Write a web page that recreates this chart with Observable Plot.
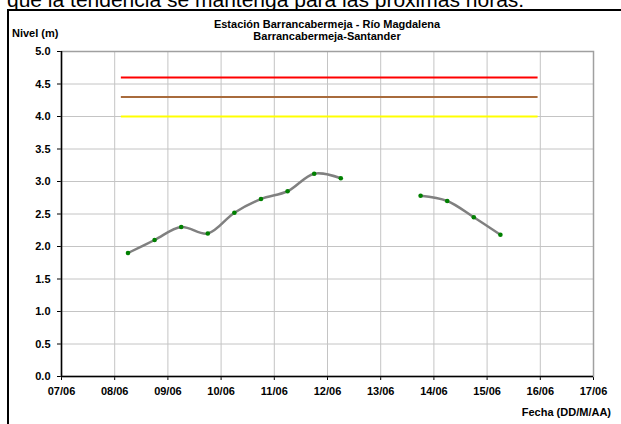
<!DOCTYPE html>
<html>
<head>
<meta charset="utf-8">
<script src="https://cdn.jsdelivr.net/npm/d3@7"></script>
<script src="https://cdn.jsdelivr.net/npm/@observablehq/plot@0.6"></script>
<style>
  html, body { margin: 0; padding: 0; background: white; overflow: hidden; }
</style>
</head>
<body>
<div id="chart"></div>
<script>
// ---- Data ----
const fechas = [
  "2011-06-08T06:00Z", "2011-06-08T18:00Z", "2011-06-09T06:00Z", "2011-06-09T18:00Z",
  "2011-06-10T06:00Z", "2011-06-10T18:00Z", "2011-06-11T06:00Z", "2011-06-11T18:00Z",
  "2011-06-12T06:00Z", "2011-06-12T18:00Z", "2011-06-13T06:00Z", "2011-06-13T18:00Z",
  "2011-06-14T06:00Z", "2011-06-14T18:00Z", "2011-06-15T06:00Z"
];
const niveles = [1.90, 2.10, 2.30, 2.20, 2.52, 2.73, 2.85, 3.12, 3.05, null, null, 2.78, 2.70, 2.45, 2.18];

const umbralNombres = ["Roja", "Naranja", "Amarilla"];
const umbralNiveles = [4.6, 4.3, 4.0];
const umbralInicio = "2011-06-08T03:00Z";
const umbralFin = "2011-06-15T23:00Z";

const diasTicks = ["2011-06-07", "2011-06-08", "2011-06-09", "2011-06-10", "2011-06-11",
  "2011-06-12", "2011-06-13", "2011-06-14", "2011-06-15", "2011-06-16", "2011-06-17"];
const nivelTicks = [0, 0.5, 1.0, 1.5, 2.0, 2.5, 3.0, 3.5, 4.0, 4.5, 5.0];

const textoSuperior = "que la tendencia se mantenga para las próximas horas.";
const titulo1 = "Estación Barrancabermeja - Río Magdalena";
const titulo2 = "Barrancabermeja-Santander";
const etiquetaY = "Nivel (m)";
const etiquetaX = "Fecha (DD/M/AA)";

// ---- Build tables ----
const serie = fechas.map((f, i) => ({fecha: new Date(f), nivel: niveles[i]}));
const umbrales = umbralNombres.map((n, i) => ({nombre: n, nivel: umbralNiveles[i],
  x1: new Date(umbralInicio), x2: new Date(umbralFin)}));
const dias = diasTicks.map(d => new Date(d + "T00:00Z"));
const fmtDia = d3.utcFormat("%d/%m");

const W = 621, H = 424;
const chart = Plot.plot({
  width: W,
  height: H,
  marginLeft: 61,
  marginRight: 28,
  marginTop: 51,
  marginBottom: 48,
  style: {
    fontFamily: "Arial, 'Liberation Sans', sans-serif",
    fontSize: "11px",
    fontWeight: "bold",
    background: "white",
    color: "black",
    overflow: "visible"
  },
  x: {
    type: "utc",
    domain: [dias[0], dias[dias.length - 1]],
    ticks: dias,
    tickFormat: fmtDia,
    tickSize: 4,
    tickPadding: 7,
    label: null
  },
  y: {
    domain: [0, 5],
    ticks: nivelTicks,
    tickFormat: d => d.toFixed(1),
    tickSize: 4,
    tickPadding: 7,
    label: null
  },
  color: {
    domain: umbralNombres,
    range: ["#ff0000", "#a86b3c", "#ffff00"]
  },
  marks: [
    Plot.ruleX(dias, {stroke: "#c4c4c4", strokeWidth: 1}),
    Plot.ruleY(nivelTicks, {stroke: "#c4c4c4", strokeWidth: 1}),
    Plot.frame({stroke: "#a0a0a0", strokeWidth: 1.5}),
    Plot.ruleY(umbrales, {y: "nivel", x1: "x1", x2: "x2", stroke: "nombre", strokeWidth: 2}),
    Plot.line(serie, {x: "fecha", y: "nivel", stroke: "#808080", strokeWidth: 2.5, curve: "catmull-rom"}),
    Plot.dot(serie, {x: "fecha", y: "nivel", r: 2.3, fill: "#008000", stroke: "none"}),
    Plot.ruleX([dias[0]], {stroke: "black", strokeWidth: 1.5}),
    Plot.ruleY([0], {stroke: "black", strokeWidth: 1.5})
  ]
});

document.getElementById("chart").appendChild(chart);

// ---- Annotations (text outside plot area) ----
const svg = d3.select(chart);
const g = svg.append("g")
  .attr("font-family", "Arial, 'Liberation Sans', sans-serif")
  .attr("text-anchor", "start")
  .attr("fill", "black");

g.append("text")
  .attr("x", 7).attr("y", 7)
  .attr("font-size", 21).attr("font-weight", "normal")
  .text(textoSuperior);

g.append("rect")
  .attr("x", 8).attr("y", 10).attr("width", W + 10).attr("height", H + 10)
  .attr("fill", "none").attr("stroke", "black").attr("stroke-width", 2);

g.append("text")
  .attr("x", 327).attr("y", 27.5).attr("text-anchor", "middle")
  .attr("font-size", 11).attr("font-weight", "bold")
  .text(titulo1);
g.append("text")
  .attr("x", 327).attr("y", 40).attr("text-anchor", "middle")
  .attr("font-size", 11).attr("font-weight", "bold")
  .text(titulo2);

g.append("text")
  .attr("x", 12).attr("y", 37)
  .attr("font-size", 11).attr("font-weight", "bold")
  .text(etiquetaY);

g.append("text")
  .attr("x", 611).attr("y", 416).attr("text-anchor", "end")
  .attr("font-size", 11).attr("font-weight", "bold")
  .text(etiquetaX);
</script>
</body>
</html>
